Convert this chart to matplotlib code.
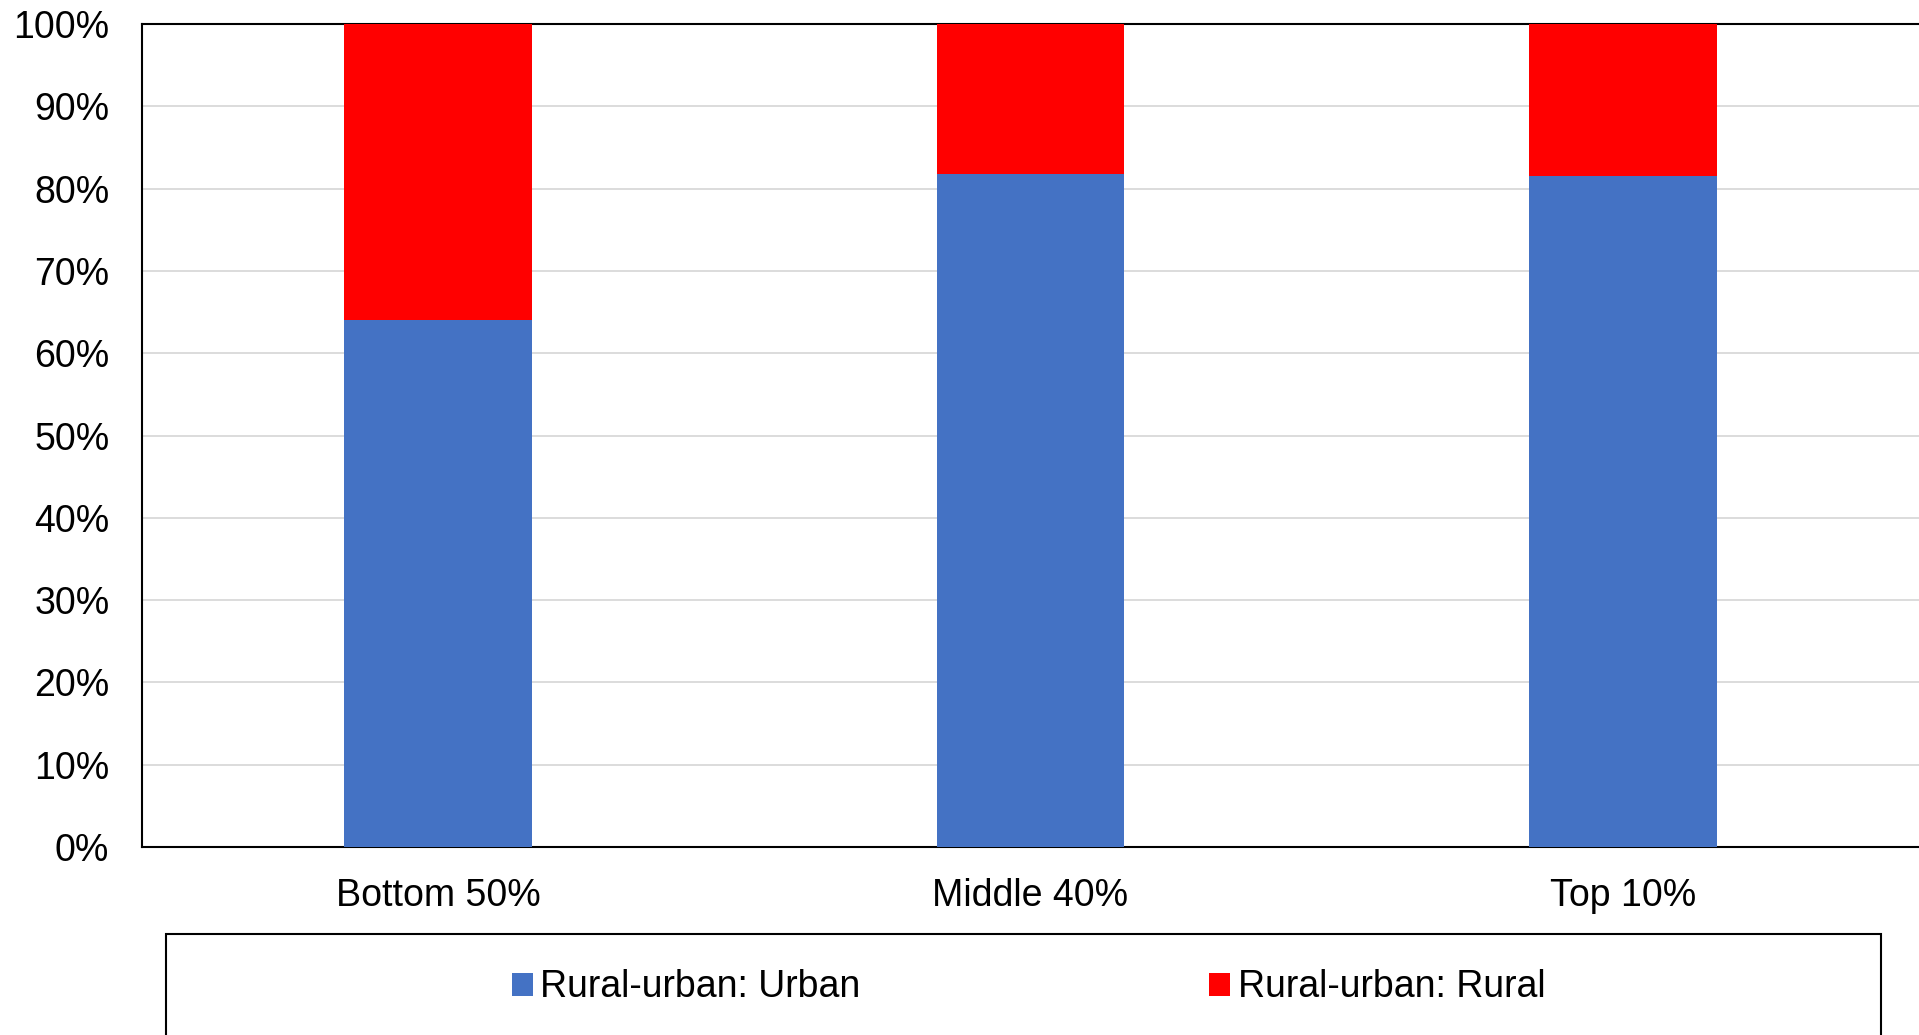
import numpy as np
import matplotlib.pyplot as plt
from matplotlib.patches import Rectangle

plt.rcParams['font.family'] = ['Liberation Sans', 'DejaVu Sans']

categories = ["Bottom 50%", "Middle 40%", "Top 10%"]
urban = [64.0, 81.8, 81.5]
rural = [36.0, 18.2, 18.5]
series_names = ["Rural-urban: Urban", "Rural-urban: Rural"]
colors = ["#4472C4", "#FF0000"]

fig = plt.figure(figsize=(19.19, 10.35), dpi=100)
ax = fig.add_axes([0.0740, 0.1816, 0.926, 0.7952])

x = np.arange(len(categories))
width = 0.317
ax.bar(x, urban, width, color=colors[0], label=series_names[0], zorder=3)
ax.bar(x, rural, width, bottom=urban, color=colors[1], label=series_names[1], zorder=3)

ax.set_xlim(-0.5, 2.5)
ax.set_ylim(0, 100)
ax.set_yticks(np.arange(0, 101, 10))
ax.set_yticklabels([f"{v}%" for v in range(0, 101, 10)])
ax.set_xticks(x)
ax.set_xticklabels(categories)
ax.tick_params(axis='both', length=0, labelsize=27, colors='black')
ax.tick_params(axis='y', pad=23.5)
ax.tick_params(axis='x', pad=22)
ax.grid(axis='y', color='#d9d9d9', linewidth=1.3, zorder=0)
ax.spines['right'].set_visible(False)
for s in ['left', 'bottom', 'top']:
    ax.spines[s].set_linewidth(1.5)
    ax.spines[s].set_color('black')

# legend frame running off the bottom edge
box = Rectangle((0.0865, -0.05), 0.8937, 0.05 + 0.0976, transform=fig.transFigure,
                fill=False, edgecolor='black', linewidth=1.5)
fig.patches.append(box)

handles, labels = ax.get_legend_handles_labels()
fig.legend(handles, labels, loc='center', bbox_to_anchor=(0.536, 0.046), ncol=2,
           frameon=False, fontsize=27, handlelength=0.56, handleheight=0.56,
           handletextpad=0.2, columnspacing=9.3)

fig.savefig("out.png", dpi=100)
